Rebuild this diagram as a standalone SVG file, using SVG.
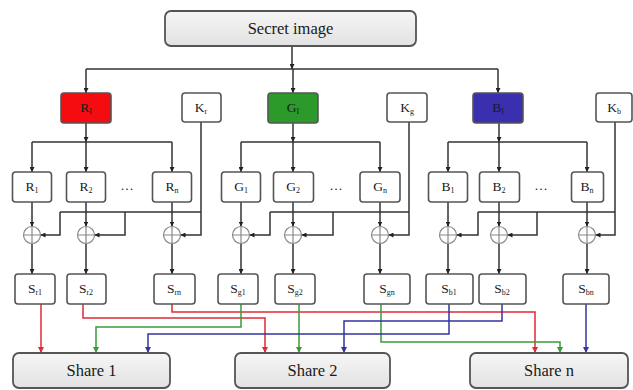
<svg xmlns="http://www.w3.org/2000/svg" width="633" height="390" viewBox="0 0 633 390">
<defs>
<linearGradient id="gr" x1="0" y1="0" x2="0" y2="1"><stop offset="0" stop-color="#f6f6f6"/><stop offset="1" stop-color="#e2e2e2"/></linearGradient>
<marker id="ak" viewBox="0 0 10 10" refX="10" refY="5" markerWidth="5" markerHeight="5" orient="auto" markerUnits="userSpaceOnUse"><path d="M0,0 L10,5 L0,10 z" fill="#222"/></marker>
<marker id="ar" viewBox="0 0 10 10" refX="10" refY="5" markerWidth="6" markerHeight="6" orient="auto" markerUnits="userSpaceOnUse"><path d="M0,0 L10,5 L0,10 z" fill="#e02a35"/></marker>
<marker id="ag" viewBox="0 0 10 10" refX="10" refY="5" markerWidth="6" markerHeight="6" orient="auto" markerUnits="userSpaceOnUse"><path d="M0,0 L10,5 L0,10 z" fill="#3a9a3a"/></marker>
<marker id="ab" viewBox="0 0 10 10" refX="10" refY="5" markerWidth="6" markerHeight="6" orient="auto" markerUnits="userSpaceOnUse"><path d="M0,0 L10,5 L0,10 z" fill="#3535a0"/></marker>
</defs>
<style>
.big{fill:url(#gr);stroke:#555;stroke-width:1.8}
.sm{fill:#fff;stroke:#555;stroke-width:1.6}
.t{fill:#1a1a1a;text-anchor:middle}
.tb{font-size:16.5px}
.ts{font-size:13.5px}
.k{fill:none;stroke:#333;stroke-width:1.5}
.ka{fill:none;stroke:#333;stroke-width:1.5;marker-end:url(#ak)}
.x{fill:#fff;stroke:#888;stroke-width:1.2}
.r{fill:none;stroke:#e02a35;stroke-width:1.5;marker-end:url(#ar)}
.g{fill:none;stroke:#3a9a3a;stroke-width:1.5;marker-end:url(#ag)}
.b{fill:none;stroke:#3535a0;stroke-width:1.5;marker-end:url(#ab)}
</style>
<rect width="633" height="390" fill="#fff"/>
<g id="connectors">
<path class="ka" d="M292,46 V69"/>
<path class="k" d="M86,69 H498"/>
<path class="ka" d="M86,69 V93"/><path class="ka" d="M293,69 V93"/><path class="ka" d="M498,69 V93"/>
<path class="ka" d="M86,123 V142"/><path class="k" d="M32,142 H172"/>
<path class="ka" d="M32,142 V172"/><path class="ka" d="M86,142 V172"/><path class="ka" d="M172,142 V172"/>
<path class="ka" d="M293,123 V142"/><path class="k" d="M241,142 H380"/>
<path class="ka" d="M241,142 V172"/><path class="ka" d="M293,142 V172"/><path class="ka" d="M380,142 V172"/>
<path class="ka" d="M499,123 V142"/><path class="k" d="M448,142 H587"/>
<path class="ka" d="M448,142 V172"/><path class="ka" d="M499,142 V172"/><path class="ka" d="M587,142 V172"/>
<path class="ka" d="M32,202 V226.5"/><path class="ka" d="M32,243.5 V274"/>
<path class="ka" d="M86,202 V226.5"/><path class="ka" d="M86,243.5 V274"/>
<path class="ka" d="M172,202 V226.5"/><path class="ka" d="M172,243.5 V274"/>
<path class="ka" d="M241,202 V226.5"/><path class="ka" d="M241,243.5 V274"/>
<path class="ka" d="M293,202 V226.5"/><path class="ka" d="M293,243.5 V274"/>
<path class="ka" d="M380,202 V226.5"/><path class="ka" d="M380,243.5 V274"/>
<path class="ka" d="M448,202 V226.5"/><path class="ka" d="M448,243.5 V274"/>
<path class="ka" d="M499,202 V226.5"/><path class="ka" d="M499,243.5 V274"/>
<path class="ka" d="M587,202 V226.5"/><path class="ka" d="M587,243.5 V274"/>
<path class="ka" d="M201,122 V235 H180.5"/><path class="k" d="M60,212 H201"/>
<path class="ka" d="M60,212 V235 H40.5"/><path class="ka" d="M125,212 V235 H94.5"/>
<path class="ka" d="M409,122 V235 H388.5"/><path class="k" d="M270,212 H409"/>
<path class="ka" d="M270,212 V235 H249.5"/><path class="ka" d="M333,212 V235 H301.5"/>
<path class="ka" d="M615,122 V235 H595.5"/><path class="k" d="M478,212 H615"/>
<path class="ka" d="M478,212 V235 H456.5"/><path class="ka" d="M537,212 V235 H507.5"/>
<path class="r" d="M41,304 V353"/>
<path class="r" d="M83,304 V318 H265 V353"/>
<path class="r" d="M172,304 V312 H535 V353"/>
<path class="g" d="M241,304 V327 H96 V353"/>
<path class="g" d="M299,304 V353"/>
<path class="g" d="M381,304 V342 H560 V353"/>
<path class="b" d="M449,304 V334 H148 V353"/>
<path class="b" d="M502,304 V321 H344 V353"/>
<path class="b" d="M586,304 V353"/>
</g>
<g id="xors" class="x">
<g id="x1"><circle cx="32" cy="235" r="8.5"/><path d="M23.5,235 H40.5 M32,226.5 V243.5"/></g>
<g id="x2"><circle cx="86" cy="235" r="8.5"/><path d="M77.5,235 H94.5 M86,226.5 V243.5"/></g>
<g id="x3"><circle cx="172" cy="235" r="8.5"/><path d="M163.5,235 H180.5 M172,226.5 V243.5"/></g>
<g id="x4"><circle cx="241" cy="235" r="8.5"/><path d="M232.5,235 H249.5 M241,226.5 V243.5"/></g>
<g id="x5"><circle cx="293" cy="235" r="8.5"/><path d="M284.5,235 H301.5 M293,226.5 V243.5"/></g>
<g id="x6"><circle cx="380" cy="235" r="8.5"/><path d="M371.5,235 H388.5 M380,226.5 V243.5"/></g>
<g id="x7"><circle cx="448" cy="235" r="8.5"/><path d="M439.5,235 H456.5 M448,226.5 V243.5"/></g>
<g id="x8"><circle cx="499" cy="235" r="8.5"/><path d="M490.5,235 H507.5 M499,226.5 V243.5"/></g>
<g id="x9"><circle cx="587" cy="235" r="8.5"/><path d="M578.5,235 H595.5 M587,226.5 V243.5"/></g>
</g>
<g font-family="Liberation Serif, serif">
<g id="secret"><rect class="big" x="165" y="11" width="251" height="35" rx="6"/><text class="t tb" x="290.5" y="34" font-family="Liberation Serif, serif">Secret image</text></g>
<g id="RI"><rect x="61" y="93" width="50" height="30" rx="3" fill="#f40c10" stroke="#555" stroke-width="1.6"/><text class="t ts" x="86" y="112" font-family="Liberation Serif, serif">R<tspan font-size="8" dy="2">I</tspan></text></g>
<g id="Kr"><rect class="sm" x="182" y="93" width="39" height="29" rx="3"/><text class="t ts" x="201" y="111.5" font-family="Liberation Serif, serif">K<tspan font-size="8" dy="2">r</tspan></text></g>
<g id="GI"><rect x="268" y="93" width="50" height="30" rx="3" fill="#2b9a2b" stroke="#555" stroke-width="1.6"/><text class="t ts" x="293" y="112" font-family="Liberation Serif, serif">G<tspan font-size="8" dy="2">I</tspan></text></g>
<g id="Kg"><rect class="sm" x="387" y="93" width="40" height="29" rx="3"/><text class="t ts" x="407" y="111.5" font-family="Liberation Serif, serif">K<tspan font-size="8" dy="2">g</tspan></text></g>
<g id="BI"><rect x="473" y="93" width="50" height="30" rx="3" fill="#3a2fae" stroke="#555" stroke-width="1.6"/><text class="t ts" x="498" y="112" font-family="Liberation Serif, serif">B<tspan font-size="8" dy="2">I</tspan></text></g>
<g id="Kb"><rect class="sm" x="596" y="93" width="36" height="29" rx="3"/><text class="t ts" x="614" y="111.5" font-family="Liberation Serif, serif">K<tspan font-size="8" dy="2">b</tspan></text></g>
<g id="R1"><rect class="sm" x="12.5" y="172" width="39" height="30" rx="3"/><text class="t ts" x="32" y="191" font-family="Liberation Serif, serif">R<tspan font-size="8" dy="2">1</tspan></text></g>
<g id="R2"><rect class="sm" x="66.5" y="172" width="39" height="30" rx="3"/><text class="t ts" x="86" y="191" font-family="Liberation Serif, serif">R<tspan font-size="8" dy="2">2</tspan></text></g>
<text class="t ts" x="127" y="190" font-family="Liberation Serif, serif">…</text>
<g id="Rn"><rect class="sm" x="152.5" y="172" width="39" height="30" rx="3"/><text class="t ts" x="172" y="191" font-family="Liberation Serif, serif">R<tspan font-size="8" dy="2">n</tspan></text></g>
<g id="G1"><rect class="sm" x="221.5" y="172" width="39" height="30" rx="3"/><text class="t ts" x="241" y="191" font-family="Liberation Serif, serif">G<tspan font-size="8" dy="2">1</tspan></text></g>
<g id="G2"><rect class="sm" x="273.5" y="172" width="40" height="30" rx="3"/><text class="t ts" x="293" y="191" font-family="Liberation Serif, serif">G<tspan font-size="8" dy="2">2</tspan></text></g>
<text class="t ts" x="336" y="190" font-family="Liberation Serif, serif">…</text>
<g id="Gn"><rect class="sm" x="360" y="172" width="40" height="30" rx="3"/><text class="t ts" x="380" y="191" font-family="Liberation Serif, serif">G<tspan font-size="8" dy="2">n</tspan></text></g>
<g id="B1"><rect class="sm" x="428.5" y="172" width="39" height="30" rx="3"/><text class="t ts" x="448" y="191" font-family="Liberation Serif, serif">B<tspan font-size="8" dy="2">1</tspan></text></g>
<g id="B2"><rect class="sm" x="479.5" y="172" width="40" height="30" rx="3"/><text class="t ts" x="499" y="191" font-family="Liberation Serif, serif">B<tspan font-size="8" dy="2">2</tspan></text></g>
<text class="t ts" x="541" y="190" font-family="Liberation Serif, serif">…</text>
<g id="Bn"><rect class="sm" x="571.5" y="172" width="32" height="30" rx="3"/><text class="t ts" x="587" y="191" font-family="Liberation Serif, serif">B<tspan font-size="8" dy="2">n</tspan></text></g>
<g id="Sr1"><rect class="sm" x="15" y="274" width="40" height="30" rx="3"/><text class="t ts" x="35" y="293" font-family="Liberation Serif, serif">S<tspan font-size="8" dy="2">r1</tspan></text></g>
<g id="Sr2"><rect class="sm" x="67" y="274" width="39" height="30" rx="3"/><text class="t ts" x="86" y="293" font-family="Liberation Serif, serif">S<tspan font-size="8" dy="2">r2</tspan></text></g>
<g id="Srn"><rect class="sm" x="154" y="274" width="41" height="30" rx="3"/><text class="t ts" x="174" y="293" font-family="Liberation Serif, serif">S<tspan font-size="8" dy="2">rn</tspan></text></g>
<g id="Sg1"><rect class="sm" x="218" y="274" width="40" height="30" rx="3"/><text class="t ts" x="238" y="293" font-family="Liberation Serif, serif">S<tspan font-size="8" dy="2">g1</tspan></text></g>
<g id="Sg2"><rect class="sm" x="275" y="274" width="40" height="30" rx="3"/><text class="t ts" x="295" y="293" font-family="Liberation Serif, serif">S<tspan font-size="8" dy="2">g2</tspan></text></g>
<g id="Sgn"><rect class="sm" x="364" y="274" width="46" height="30" rx="3"/><text class="t ts" x="387" y="293" font-family="Liberation Serif, serif">S<tspan font-size="8" dy="2">gn</tspan></text></g>
<g id="Sb1"><rect class="sm" x="426" y="274" width="47" height="30" rx="3"/><text class="t ts" x="449" y="293" font-family="Liberation Serif, serif">S<tspan font-size="8" dy="2">b1</tspan></text></g>
<g id="Sb2"><rect class="sm" x="479" y="274" width="47" height="30" rx="3"/><text class="t ts" x="502" y="293" font-family="Liberation Serif, serif">S<tspan font-size="8" dy="2">b2</tspan></text></g>
<g id="Sbn"><rect class="sm" x="563" y="274" width="46" height="30" rx="3"/><text class="t ts" x="586" y="293" font-family="Liberation Serif, serif">S<tspan font-size="8" dy="2">bn</tspan></text></g>
<g id="share1"><rect class="big" x="13" y="353" width="157" height="35" rx="6"/><text class="t tb" x="91.5" y="376" font-family="Liberation Serif, serif">Share 1</text></g>
<g id="share2"><rect class="big" x="235" y="353" width="155" height="35" rx="6"/><text class="t tb" x="312.5" y="376" font-family="Liberation Serif, serif">Share 2</text></g>
<g id="sharen"><rect class="big" x="470" y="353" width="158" height="35" rx="6"/><text class="t tb" x="549" y="376" font-family="Liberation Serif, serif">Share n</text></g>
</g>
</svg>
